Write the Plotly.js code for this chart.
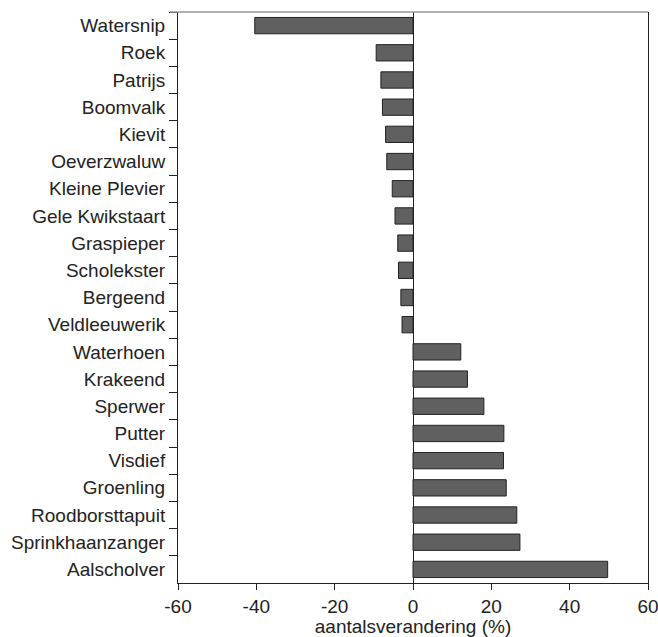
<!DOCTYPE html>
<html>
<head>
<meta charset="utf-8">
<script src="https://cdn.plot.ly/plotly-3.0.1.min.js"></script>
<style>html,body{margin:0;padding:0;background:#fff;}#chart{width:658px;height:637px;}</style>
</head>
<body>
<div id="chart"></div>
<script>
var species = ["Watersnip","Roek","Patrijs","Boomvalk","Kievit","Oeverzwaluw","Kleine Plevier","Gele Kwikstaart","Graspieper","Scholekster","Bergeend","Veldleeuwerik","Waterhoen","Krakeend","Sperwer","Putter","Visdief","Groenling","Roodborsttapuit","Sprinkhaanzanger","Aalscholver"];
var change = [-40.4,-9.4,-8.2,-7.8,-7.0,-6.7,-5.3,-4.6,-3.9,-3.7,-3.1,-2.8,12.2,13.9,18.1,23.2,23.1,23.8,26.5,27.3,49.7];
var xTicks = [-60,-40,-20,0,20,40,60];
var xTitle = "aantalsverandering (%)";

var font = {family: "'Liberation Sans', Arial, sans-serif", size: 19, color: "#222"};

var trace = {
  type: "bar",
  orientation: "h",
  x: change,
  y: species,
  width: 0.6,
  marker: {color: "#606060", line: {color: "#222", width: 1}},
  hoverinfo: "x+y"
};

var layout = {
  width: 658, height: 637,
  margin: {l: 178, r: 10, t: 12, b: 54, pad: 0},
  paper_bgcolor: "#fff", plot_bgcolor: "#fff",
  font: font,
  showlegend: false,
  xaxis: {
    range: [-60, 60],
    tickvals: xTicks,
    ticktext: xTicks.map(String),
    ticks: "outside", ticklen: 6, tickwidth: 1, tickcolor: "#222",
    ticklabeloverflow: "allow",
    showline: true, linecolor: "#222", linewidth: 1,
    showgrid: false,
    zeroline: true, zerolinecolor: "#222", zerolinewidth: 1,
    tickfont: font,
    title: {text: xTitle, font: font, standoff: 1}
  },
  yaxis: {
    type: "category",
    categoryorder: "array", categoryarray: species,
    range: [species.length - 0.5, -0.5],
    tickson: "boundaries",
    ticks: "outside", ticklen: 8, tickwidth: 1, tickcolor: "#222",
    ticklabelstandoff: 8,
    showline: true, linecolor: "#222", linewidth: 1, mirror: true,
    showgrid: false, zeroline: false,
    tickfont: font
  },
  shapes: [{
    type: "line", xref: "paper", yref: "paper",
    x0: -8/470, x1: 1, y0: 1, y1: 1,
    line: {color: "#999", width: 1.5}, layer: "above"
  }]
};

Plotly.newPlot("chart", [trace], layout, {displayModeBar: false, staticPlot: true});
</script>
</body>
</html>
